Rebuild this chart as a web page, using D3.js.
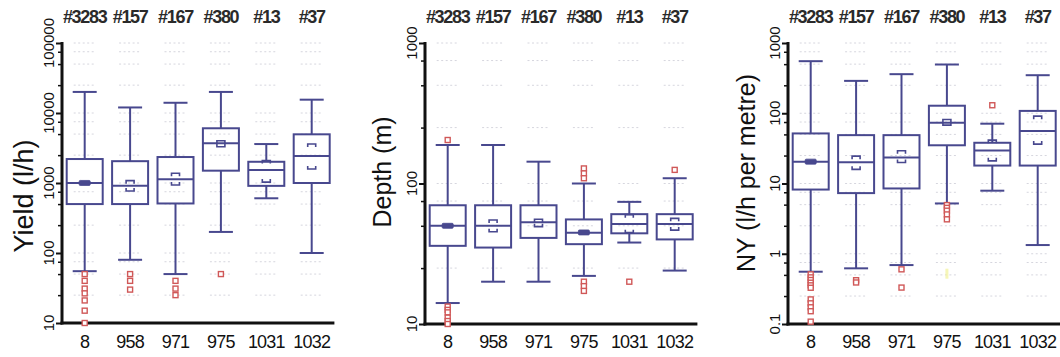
<!DOCTYPE html>
<html><head><meta charset="utf-8">
<script src="https://cdn.jsdelivr.net/npm/d3@7"></script>
<style>body{margin:0;background:#fff} svg{display:block}</style>
</head><body>
<svg id="c" width="1060" height="357"></svg>
<script>
// ---------- data ----------
const categories = ["8", "958", "971", "975", "1031", "1032"];
const topLabels = ["#3283", "#157", "#167", "#380", "#13", "#37"];

// Yield (l/h)
const yieldWhiskerHigh = [20000, 12000, 14000, 20000, 3600, 15500];
const yieldQ3 = [2200, 2050, 2350, 6050, 2010, 4960];
const yieldMedian = [1000, 910, 1130, 3690, 1530, 2430];
const yieldQ1 = [500, 500, 510, 1500, 910, 1000];
const yieldWhiskerLow = [55, 80, 50, 200, 605, 100];
const yieldCiHigh = [1045, 1080, 1375, 4020, 2100, 3600];
const yieldCiLow = [960, 770, 935, 3300, 1030, 1585];
const yieldOutliers = [[50, 40, 31, 26.5, 21, 15, 10], [50, 40, 30], [40, 31, 25], [50], [], []];
const yieldTicks = [10, 100, 1000, 10000, 100000];
const yieldTickLabels = ["10", "100", "1000", "10000", "100000"];

// Depth (m)
const depthWhiskerHigh = [188, 188, 143, 100, 74, 109];
const depthQ3 = [70, 70, 70, 55.5, 60.5, 60.5];
const depthMedian = [50, 50, 53, 44.7, 51.5, 51.5];
const depthQ1 = [36, 35, 41, 37, 44.2, 40];
const depthWhiskerLow = [14.1, 20, 20, 22, 38, 24];
const depthCiHigh = [51, 55, 55.6, 46, 60, 56.5];
const depthCiLow = [49, 45.4, 49.3, 43.7, 44.7, 46.6];
const depthOutliers = [[204, 13.3, 12.6, 12.1, 11.1, 10.5, 10], [], [], [128, 118, 109, 20, 18.6, 17.2], [20], [125]];
const depthTicks = [10, 100, 1000];
const depthTickLabels = ["10", "100", "1000"];

// NY (l/h per metre)
const nyWhiskerHigh = [551, 289, 360, 494, 71, 348];
const nyQ3 = [51.6, 48.8, 48.8, 128, 38, 108];
const nyMedian = [20.4, 20, 23.5, 73, 29.5, 56];
const nyQ1 = [8.2, 7.3, 8.5, 35, 18, 18];
const nyWhiskerLow = [0.555, 0.62, 0.69, 5.2, 7.9, 1.33];
const nyCiHigh = [21.5, 24.5, 29.2, 81.6, 41.4, 91];
const nyCiLow = [19.5, 15.9, 19.9, 67.8, 21, 36.4];
const nyOutliers = [[0.509, 0.461, 0.423, 0.387, 0.355, 0.328, 0.224, 0.197, 0.173, 0.152, 0.108], [0.42, 0.39], [0.6, 0.33], [4.93, 4.5, 4.1, 3.63, 3.09], [130], []];
const nyFaintYellow = [null, null, null, 0.52, null, null];
const nyTicks = [0.1, 1, 10, 100, 1000];
const nyTickLabels = ["0.1", "1", "10", "100", "1000"];

// ---------- layout ----------
const panels = [
  {title: "Yield (l/h)", titleSize: 27, titleX: 33, titleY: 196,
   axisX: 62, xEnd: 334.4, yTop: 43, yBottom: 323,
   hi: yieldWhiskerHigh, q3: yieldQ3, med: yieldMedian, q1: yieldQ1, lo: yieldWhiskerLow,
   ciH: yieldCiHigh, ciL: yieldCiLow, out: yieldOutliers, ticks: yieldTicks, tickLabels: yieldTickLabels},
  {title: "Depth (m)", titleSize: 25, titleX: 391, titleY: 172,
   axisX: 425, xEnd: 697.4, yTop: 43, yBottom: 324,
   hi: depthWhiskerHigh, q3: depthQ3, med: depthMedian, q1: depthQ1, lo: depthWhiskerLow,
   ciH: depthCiHigh, ciL: depthCiLow, out: depthOutliers, ticks: depthTicks, tickLabels: depthTickLabels},
  {title: "NY (l/h per metre)", titleSize: 25, titleX: 755, titleY: 173,
   axisX: 788, xEnd: 1060.4, yTop: 43, yBottom: 324,
   hi: nyWhiskerHigh, q3: nyQ3, med: nyMedian, q1: nyQ1, lo: nyWhiskerLow,
   ciH: nyCiHigh, ciL: nyCiLow, out: nyOutliers, ticks: nyTicks, tickLabels: nyTickLabels, faint: nyFaintYellow}
];

const BOX = "#48488e", RED = "#d05858", FONT = "'Liberation Sans', Arial, Helvetica, sans-serif";
const svg = d3.select("#c");

panels.forEach(p => {
  const g = svg.append("g");
  const x = d3.scalePoint().domain(categories).range([p.axisX, p.xEnd]).padding(0.5);
  const y = d3.scaleLog().domain([p.ticks[0], p.ticks[p.ticks.length - 1]]).range([p.yBottom, p.yTop]);

  const minor = [];
  p.ticks.slice(0, -1).forEach(t => { minor.push(t * 2.5, t * 5, t * 7.5); });
  const faintLevels = p.ticks.slice(1).concat(minor);

  // faint grey marks per column
  categories.forEach(c => {
    g.selectAll(null).data(faintLevels).join("line")
      .attr("x1", x(c) - 11).attr("x2", x(c) + 9)
      .attr("y1", d => y(d)).attr("y2", d => y(d))
      .attr("stroke", "#d6d6de").attr("stroke-width", 1).attr("stroke-dasharray", "2,2.5");
  });

  // y axis
  const axis = d3.axisLeft(y).tickValues(p.ticks).tickFormat("").tickSize(6);
  const ag = g.append("g").attr("transform", `translate(${p.axisX},0)`).call(axis);
  ag.select(".domain").remove();
  ag.selectAll(".tick line").attr("stroke", "#111").attr("stroke-width", 2);
  const mAxis = d3.axisLeft(y).tickValues(minor).tickFormat("").tickSize(4);
  const mg = g.append("g").attr("transform", `translate(${p.axisX},0)`).call(mAxis);
  mg.select(".domain").remove();
  mg.selectAll(".tick line").attr("stroke", "#111").attr("stroke-width", 1.5);

  g.append("line").attr("x1", p.axisX).attr("x2", p.axisX)
    .attr("y1", y(p.ticks[p.ticks.length - 1]) - 1).attr("y2", p.yBottom + 1.5)
    .attr("stroke", "#111").attr("stroke-width", 3);
  g.append("line").attr("x1", p.axisX - 1.5).attr("x2", Math.min(p.xEnd, 1060))
    .attr("y1", p.yBottom).attr("y2", p.yBottom)
    .attr("stroke", "#111").attr("stroke-width", 3);

  // tick labels (rotated)
  g.selectAll(null).data(p.ticks).join("text")
    .attr("transform", (d, i) => `translate(${p.axisX - 8},${y(d)}) rotate(-90)`)
    .attr("text-anchor", "middle").attr("font-family", FONT).attr("font-size", 15)
    .attr("fill", "#111")
    .text((d, i) => p.tickLabels[i]);

  // title
  g.append("text")
    .attr("transform", `translate(${p.titleX},${p.titleY}) rotate(-90)`)
    .attr("text-anchor", "middle").attr("font-family", FONT).attr("font-size", p.titleSize)
    .attr("fill", "#111").text(p.title);

  // category labels
  g.selectAll(null).data(categories).join("text")
    .attr("x", d => x(d)).attr("y", 348).attr("text-anchor", "middle")
    .attr("font-family", FONT).attr("font-size", 18).attr("letter-spacing", "-0.8")
    .attr("fill", "#111").text(d => d);
  g.selectAll(null).data(topLabels).join("text")
    .attr("x", (d, i) => x(categories[i])).attr("y", 23).attr("text-anchor", "middle")
    .attr("font-family", FONT).attr("font-size", 18).attr("font-weight", "bold").attr("letter-spacing", "-1.3")
    .attr("fill", "#2a2a2a").text(d => d);

  // boxes
  categories.forEach((c, i) => {
    const cx = x(c);
    const bw = 18, cw = 12;
    const L = (x1, y1, x2, y2, w) => g.append("line").attr("x1", x1).attr("y1", y1).attr("x2", x2).attr("y2", y2)
      .attr("stroke", BOX).attr("stroke-width", w || 2);
    L(cx, y(p.q3[i]), cx, y(p.hi[i]));
    L(cx, y(p.q1[i]), cx, y(p.lo[i]));
    L(cx - cw, y(p.hi[i]), cx + cw, y(p.hi[i]));
    L(cx - cw, y(p.lo[i]), cx + cw, y(p.lo[i]));
    g.append("rect").attr("x", cx - bw).attr("width", bw * 2)
      .attr("y", y(p.q3[i])).attr("height", y(p.q1[i]) - y(p.q3[i]))
      .attr("fill", "none").attr("stroke", BOX).attr("stroke-width", 2);
    L(cx - bw, y(p.med[i]), cx + bw, y(p.med[i]));
    const yh = y(p.ciH[i]), yl = y(p.ciL[i]);
    if (yl - yh < 4) {
      const m = (yh + yl) / 2;
      g.append("rect").attr("x", cx - 5.5).attr("width", 11).attr("y", m - 2.5).attr("height", 5)
        .attr("fill", BOX).attr("stroke", BOX).attr("stroke-width", 0.8).attr("rx", 1);
    } else {
      const t = Math.min(3, (yl - yh) / 2);
      g.append("path").attr("d", `M${cx - 4},${yh + t}V${yh}H${cx + 4}V${yh + t}M${cx - 4},${yl - t}V${yl}H${cx + 4}V${yl - t}`)
        .attr("fill", "none").attr("stroke", BOX).attr("stroke-width", 1.6);
    }
    g.selectAll(null).data(p.out[i]).join("rect")
      .attr("x", cx - 2.5).attr("y", d => y(d) - 2.5).attr("width", 5).attr("height", 5)
      .attr("fill", "#fff").attr("stroke", RED).attr("stroke-width", 1.4);
    if (p.faint && p.faint[i] != null) {
      g.append("rect").attr("x", cx - 1.5).attr("y", y(p.faint[i]) - 5).attr("width", 3).attr("height", 10)
        .attr("fill", "#f2f29a").attr("opacity", 0.7);
    }
  });
});
</script>
</body></html>
